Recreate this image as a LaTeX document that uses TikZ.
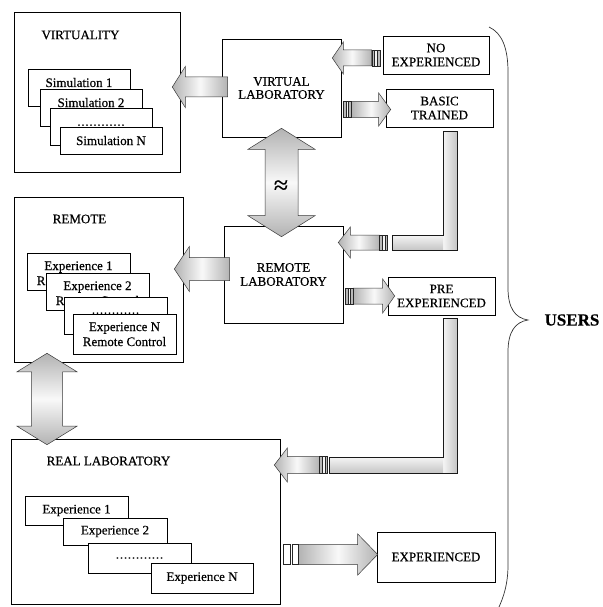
\documentclass[tikz,border=0pt]{standalone}
\usepackage{fontspec}
\setmainfont[FakeBold=0.5]{Liberation Serif}
\usetikzlibrary{calc}
% horizontal block arrow: #1 tail, #2 tip, #3 dir, #4 body half, #5 head half, #6 head length, #7 style
\newcommand\BArrow[7]{%
  \path[#7] let \p1=(#1),\p2=(#2) in
    (\x1,{\y2+#4}) -- ({\x2-(#3)*#6},{\y2+#4}) -- ({\x2-(#3)*#6},{\y2+#5}) -- (\x2,\y2)
    -- ({\x2-(#3)*#6},{\y2-#5}) -- ({\x2-(#3)*#6},{\y2-#4}) -- (\x1,{\y2-#4}) -- cycle;}
% vertical double block arrow: #1 top tip, #2 bottom tip, #3 body half, #4 head half, #5 head length, #6 style
\newcommand\VDArrow[6]{%
  \path[#6] let \p1=(#1),\p2=(#2) in
    (\x1,\y1) -- ({\x1+#4},{\y1-#5}) -- ({\x1+#3},{\y1-#5}) -- ({\x1+#3},{\y2+#5})
    -- ({\x1+#4},{\y2+#5}) -- (\x1,\y2) -- ({\x1-#4},{\y2+#5}) -- ({\x1-#3},{\y2+#5})
    -- ({\x1-#3},{\y1-#5}) -- ({\x1-#4},{\y1-#5}) -- cycle;}
% striped tail: #1 start, #2 dir, #3 half height
\newcommand\Stripes[3]{%
  \path[sdark] let \p1=(#1) in (\x1,{\y1-#3}) rectangle ({\x1+(#2)*2.7pt},{\y1+#3});
  \path[slight] let \p1=(#1) in ({\x1+(#2)*2.7pt},{\y1-#3}) rectangle ({\x1+(#2)*5.4pt},{\y1+#3});
  \path[sdark] let \p1=(#1) in ({\x1+(#2)*5.4pt},{\y1-#3}) rectangle ({\x1+(#2)*8pt},{\y1+#3});}
% elbow bar: #1 top centre of vertical bar, #2 arrow tip, #3 vertical half width, #4 horizontal half height, #5 left end offset
\newcommand\Elbow[5]{%
  \path[vbar] let \p1=(#1),\p2=(#2) in ({\x1-#3},\y1) rectangle ({\x1+#3},{\y2-#4});
  \path[hbar] let \p1=(#1),\p2=(#2) in ({\x2+#5},{\y2+#4}) rectangle ({\x1-#3},{\y2-#4});
  \path[barline] let \p1=(#1),\p2=(#2) in ({\x1-#3},\y1) -- ({\x1+#3},\y1) -- ({\x1+#3},{\y2-#4})
    -- ({\x2+#5},{\y2-#4}) -- ({\x2+#5},{\y2+#4}) -- ({\x1-#3},{\y2+#4}) -- cycle;}
\begin{document}
\begin{tikzpicture}[x=1pt,y=-1pt,
  font=\fontsize{13}{14}\selectfont,
  box/.style={draw=black, fill=white, line width=0.6pt, inner sep=0pt},
  lbl/.style={inner sep=0pt, align=center},
  two/.style={inner sep=0pt, align=center, font=\fontsize{13}{15}\selectfont},
  harr/.style={draw=gray!45!black, line width=0.5pt, left color=gray!60, right color=gray!60, middle color=gray!5},
  varr/.style={draw=gray!45!black, line width=0.5pt, top color=gray!60, bottom color=gray!60, middle color=gray!5},
  vbar/.style={left color=gray!8, right color=gray!45},
  hbar/.style={top color=gray!8, bottom color=gray!45},
  barline/.style={draw=gray!20!black, line width=0.6pt},
  sdark/.style={draw=gray!30!black, line width=0.3pt, fill=gray!55},
  slight/.style={draw=gray!30!black, line width=0.3pt, fill=gray!10},
  swhite/.style={draw=gray!30!black, line width=0.5pt, fill=white},
  brace/.style={draw=gray!40!black, line width=0.7pt}]
\useasboundingbox (0,0) rectangle (602,607);

% ---------- VIRTUALITY ----------
\node[box, minimum width=166pt, minimum height=160pt] (virt) at (97,92) {};
\node[lbl] (virtT) at (80.5,35) {VIRTUALITY};
\node[box, minimum width=102pt, minimum height=37pt] (sim1) at (79,87.5) {};
\node[lbl, anchor=base] (sim1T) at ($(sim1.north)+(0,18.3)$) {Simulation 1};
\node[box, minimum width=102pt, minimum height=37pt] (sim2) at (91,107.5) {};
\node[lbl, anchor=base] (sim2T) at ($(sim2.north)+(0,18.3)$) {Simulation 2};
\node[box, minimum width=102pt, minimum height=37pt] (sim3) at (101,126.5) {};
\node[lbl, anchor=base, font=\fontsize{12}{12}\selectfont] (sim3T) at ($(sim3.north)+(0,18)$) {…………};
\node[box, minimum width=102pt, minimum height=27pt] (simN) at (111,140.5) {};
\node[lbl, anchor=base] (simNT) at ($(simN.north)+(0,18.3)$) {Simulation N};

% ---------- VIRTUAL LAB / users ----------
\node[box, minimum width=119pt, minimum height=98pt, align=center, font=\fontsize{13}{13}\selectfont] (vlab) at (281.5,88) {VIRTUAL\\LABORATORY};
\node[box, minimum width=106pt, minimum height=38pt, align=center] (noexp) at (436,55) {NO\\EXPERIENCED};
\node[box, minimum width=107pt, minimum height=38pt, align=center] (basic) at (439.5,108) {BASIC\\TRAINED};

% ---------- REMOTE ----------
\node[box, minimum width=169pt, minimum height=165pt] (remote) at (98.5,279.5) {};
\node[lbl] (remoteT) at (79.5,219) {REMOTE};
\node[box, minimum width=103pt, minimum height=37pt] (re1) at (78.5,271.5) {};
\node[two, anchor=north] (re1T) at ($(re1.north)+(0,8.5)$) {Experience 1\\Remote Control};
\node[box, minimum width=103pt, minimum height=37pt] (re2) at (97.5,291.5) {};
\node[two, anchor=north] (re2T) at ($(re2.north)+(0,8.5)$) {Experience 2\\Remote Control};
\node[box, minimum width=103pt, minimum height=37pt] (re3) at (115.5,315.5) {};
\node[lbl, anchor=base, font=\fontsize{12}{12}\selectfont] (re3T) at ($(re3.north)+(0,17)$) {…………};
\node[box, minimum width=103pt, minimum height=40pt] (reN) at (124.5,334) {};
\node[two, anchor=north] (reNT) at ($(reN.north)+(0,8.5)$) {Experience N\\Remote Control};

% ---------- REMOTE LAB / users ----------
\node[box, minimum width=119pt, minimum height=97pt, align=center] (rlab) at (283.5,274.5) {REMOTE\\LABORATORY};
\node[box, minimum width=107pt, minimum height=38pt, align=center] (pre) at (441.5,296) {PRE\\EXPERIENCED};

% ---------- REAL LABORATORY ----------
\node[box, minimum width=269pt, minimum height=165pt] (real) at (145.5,521.5) {};
\node[lbl] (realT) at (108.5,461) {REAL LABORATORY};
\node[box, minimum width=103pt, minimum height=29pt] (r1) at (76.5,510.5) {Experience 1};
\node[box, minimum width=104pt, minimum height=27pt] (r2) at (115,531.5) {Experience 2};
\node[box, minimum width=103pt, minimum height=30pt, font=\fontsize{12}{12}\selectfont] (r3) at (139.5,558) {…………};
\node[box, minimum width=102pt, minimum height=30pt] (rN) at (202,578) {Experience N};
\node[box, minimum width=118pt, minimum height=50pt] (exp) at (436,557) {EXPERIENCED};

% ---------- connector coordinates ----------
\coordinate (a1tail) at ($(vlab.west)+(6,-1)$);
\coordinate (a1tip) at ($(virt.east)+(-8,-5)$);
\coordinate (a2tail) at ($(noexp.west)+(-11,3)$);
\coordinate (a2tip) at ($(vlab.east)+(-9,-30)$);
\coordinate (a3tail) at ($(vlab.east)+(10,21.5)$);
\coordinate (a3tip) at ($(basic.west)+(5,1.5)$);
\coordinate (e1top) at ($(basic.south)+(10.5,4)$);
\coordinate (e1tip) at ($(rlab.east)+(-5,-32)$);
\coordinate (e1tail) at ($(e1tip)+(41,0)$);
\coordinate (a5tail) at ($(rlab.west)+(6,-5.5)$);
\coordinate (a5tip) at ($(remote.east)+(-9,-10.5)$);
\coordinate (a6tail) at ($(rlab.east)+(10,21.5)$);
\coordinate (a6tip) at ($(pre.west)+(7,0)$);
\coordinate (e2top) at ($(pre.south)+(8.5,3)$);
\coordinate (e2tip) at ($(real.east)+(-6,-56.5)$);
\coordinate (e2tail) at ($(e2tip)+(45,0)$);
\coordinate (a8tail) at ($(real.east)+(18,33)$);
\coordinate (a8tip) at ($(exp.west)+(1,-2.5)$);
\coordinate (m1) at ($(vlab.south)+(0,-9)$);
\coordinate (m2) at ($(rlab.north)+(-2,11)$);
\coordinate (l1) at ($(remote.south)+(-51.5,-9)$);
\coordinate (l2) at ($(real.north)+(-98.5,6)$);

% ---------- block arrows ----------
\BArrow{a1tail}{a1tip}{-1}{10pt}{20.5pt}{13pt}{harr}
\BArrow{a2tail}{a2tip}{-1}{8pt}{16pt}{11pt}{harr}
\Stripes{a2tail}{1}{8pt}
\BArrow{a3tail}{a3tip}{1}{8pt}{16.5pt}{12pt}{harr}
\Stripes{a3tail}{-1}{8pt}
\Elbow{e1top}{e1tip}{7pt}{7.5pt}{54pt}
\BArrow{e1tail}{e1tip}{-1}{7.5pt}{15.5pt}{12pt}{harr}
\Stripes{e1tail}{1}{7.5pt}
\BArrow{a5tail}{a5tip}{-1}{11.5pt}{22.5pt}{15pt}{harr}
\BArrow{a6tail}{a6tip}{1}{8pt}{17pt}{12pt}{harr}
\Stripes{a6tail}{-1}{8pt}
\Elbow{e2top}{e2tip}{7pt}{8pt}{55pt}
\BArrow{e2tail}{e2tip}{-1}{8.5pt}{17pt}{13pt}{harr}
\Stripes{e2tail}{1}{8.5pt}
\BArrow{a8tail}{a8tip}{1}{10pt}{20.5pt}{20pt}{harr}
\path[swhite] let \p1=(a8tail) in ({\x1-15pt},{\y1-10pt}) rectangle ({\x1-8.5pt},{\y1+10pt});
\path[swhite] let \p1=(a8tail) in ({\x1-6.5pt},{\y1-10pt}) rectangle (\x1,{\y1+10pt});
\VDArrow{m1}{m2}{16.5pt}{33.5pt}{21pt}{varr}
\VDArrow{l1}{l2}{15.5pt}{30pt}{18.5pt}{varr}
\node[inner sep=0pt, font=\fontsize{26}{26}\selectfont] (approx) at (281,187) {≈};

% ---------- USERS brace ----------
\draw[brace] (489,27) .. controls (502,33) and (508,48) .. (508,72) -- (508,288)
  .. controls (508,308) and (515,318) .. (528,320)
  .. controls (515,322) and (508,332) .. (508,352) -- (508,565)
  .. controls (508,585) and (503,598) .. (499,607);
\node[inner sep=0pt, font=\bfseries\fontsize{17}{17}\selectfont] (users) at (572,320) {USERS};
\end{tikzpicture}
\end{document}
